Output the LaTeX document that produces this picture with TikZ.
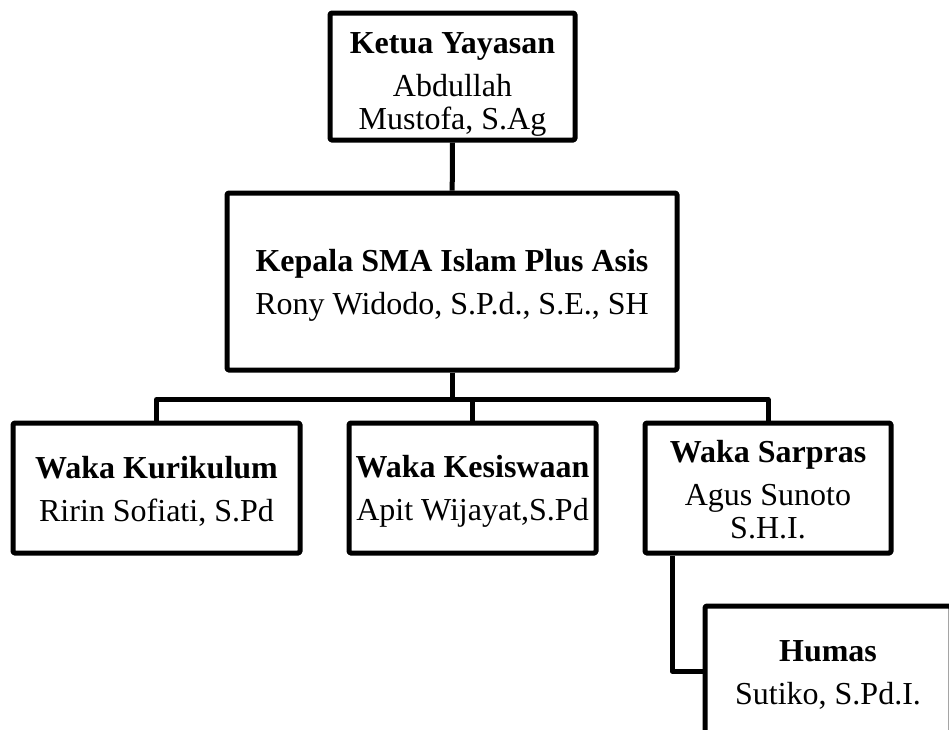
\documentclass[tikz,border=0pt]{standalone}
\usepackage{fontspec}
\setmainfont{Liberation Serif}
\usetikzlibrary{positioning}

\newcommand{\toppad}[1]{\rule{0pt}{#1}}

\begin{document}
\begin{tikzpicture}[x=1pt,y=-1pt,line join=round]
  \tikzstyle{unit}=[draw,line width=5,rounded corners=1.5,align=center,inner sep=0,font=\fontsize{32}{33}\selectfont];
  \tikzstyle{link}=[line width=5];

  \useasboundingbox (0,0) rectangle (949,729);
  \clip (0,0) rectangle (949,729);

  % top
  \node[unit,minimum width=245,minimum height=127] (ketua) at (452.5,76.5)
    {\toppad{36pt}\textbf{Ketua Yayasan}\\[10pt] Abdullah\\ Mustofa, S.Ag};
  \node[unit,minimum width=450,minimum height=177] (kepala) at (452,281.5)
    {\toppad{30pt}\textbf{Kepala SMA Islam Plus Asis}\\[10pt] Rony Widodo, S.P.d., S.E., SH};

  % waka
  \node[unit,minimum width=287,minimum height=130] (kurikulum) at (156.5,488)
    {\toppad{28pt}\textbf{Waka Kurikulum}\\[10pt] Ririn Sofiati, S.Pd};
  \node[unit,minimum width=247,minimum height=130] (kesiswaan) at (472.5,488)
    {\toppad{28pt}\textbf{Waka Kesiswaan}\\[10pt] Apit Wijayat,S.Pd};
  \node[unit,minimum width=246,minimum height=130] (sarpras) at (768,488)
    {\toppad{26pt}\textbf{Waka Sarpras}\\[10pt] Agus Sunoto\\ S.H.I.};

  % humas
  \node[unit,minimum width=246,minimum height=130] (humas) at (828,671)
    {\toppad{28pt}\textbf{Humas}\\[10pt] Sutiko, S.Pd.I.};

  % lines
  \draw[link] (ketua) -- (kepala);
  \draw[link] (kepala.south) -- ++(0,27) coordinate (bus);
  \draw[link] (kurikulum.north) |- (bus) -| (sarpras.north);
  \draw[link] (kesiswaan.north) -- (kesiswaan.north |- bus);
  \draw[link] ([xshift=-96]sarpras.south) |- (humas.west);
\end{tikzpicture}
\end{document}
